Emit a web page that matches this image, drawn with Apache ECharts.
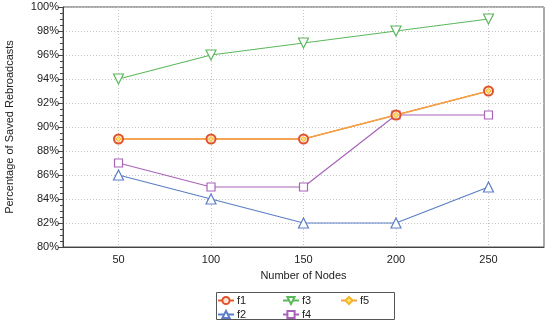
<!DOCTYPE html>
<html>
<head>
<meta charset="utf-8">
<script src="https://cdn.jsdelivr.net/npm/echarts@6/dist/echarts.min.js"></script>
<style>html,body{margin:0;padding:0;background:#fff}#c{width:550px;height:324px}</style>
</head>
<body>
<div id="c"></div>
<script>
var nodes = [50, 100, 150, 200, 250];
var f1 = [89, 89, 89, 91, 93];
var f2 = [86, 84, 82, 82, 85];
var f3 = [94, 96, 97, 98, 99];
var f4 = [87, 85, 85, 91, 91];
var f5 = [89, 89, 89, 91, 93];
var yTicks = [80, 82, 84, 86, 88, 90, 92, 94, 96, 98, 100];

function pairs(arr) { return nodes.map(function (n, i) { return [n, arr[i]]; }); }

var FONT = 'Liberation Sans';
var chart = echarts.init(document.getElementById('c'));
var legendBase = {
  orient: 'vertical', itemGap: 3, itemWidth: 16, itemHeight: 9,
  textStyle: { fontFamily: FONT, fontSize: 11, color: '#222', padding: [0, 0, 0, -2] },
  padding: 0, selectedMode: false
};
chart.setOption({
  animation: false,
  grid: { left: 63, right: 6, top: 7, bottom: 77, show: true, borderColor: '#555', borderWidth: 1,
          containLabel: false, outerBoundsMode: 'none' },
  xAxis: {
    type: 'value', min: 20, max: 280,
    name: 'Number of Nodes', nameLocation: 'middle', nameGap: 23,
    nameTextStyle: { fontFamily: FONT, fontSize: 11, color: '#222' },
    axisLine: { lineStyle: { color: '#444' } },
    axisTick: { show: false, customValues: nodes },
    axisLabel: { customValues: nodes, fontFamily: FONT, fontSize: 11, color: '#222', margin: 7 },
    splitLine: { show: true, lineStyle: { color: '#c4c4c4', type: [1, 2] } }
  },
  yAxis: {
    type: 'value', min: yTicks[0], max: yTicks[yTicks.length - 1], interval: 2,
    name: 'Percentage of Saved Rebroadcasts', nameLocation: 'middle', nameGap: 48,
    nameTextStyle: { fontFamily: FONT, fontSize: 11, color: '#222' },
    axisLine: { show: true, lineStyle: { color: '#444' } },
    axisTick: { show: true, length: 5, lineStyle: { color: '#444' } },
    minorTick: { show: true, splitNumber: 4, length: 3, lineStyle: { color: '#444' } },
    axisLabel: { formatter: '{value}%', fontFamily: FONT, fontSize: 11, color: '#222', margin: 4 },
    splitLine: { show: true, lineStyle: { color: '#c4c4c4', type: [1, 2] } }
  },
  legend: [
    Object.assign({}, legendBase, { left: 217, top: 295, data: ['f1', 'f2'] }),
    Object.assign({}, legendBase, { left: 282, top: 295, data: ['f3', 'f4'] }),
    Object.assign({}, legendBase, { left: 340, top: 295, data: ['f5'] })
  ],
  graphic: [{
    type: 'rect', shape: { x: 216.5, y: 292.5, width: 178, height: 27 },
    style: { fill: 'none', stroke: '#555', lineWidth: 1 }
  }],
  series: [
    { name: 'f2', type: 'line', data: pairs(f2), symbol: 'triangle', symbolSize: 10,
      lineStyle: { color: '#5b7ec6', width: 1.2 },
      itemStyle: { color: '#fff', borderColor: '#5b7ec6', borderWidth: 1.2 } },
    { name: 'f3', type: 'line', data: pairs(f3), symbol: 'triangle', symbolRotate: 180, symbolSize: 10,
      lineStyle: { color: '#5cb85c', width: 1.2 },
      itemStyle: { color: '#fff', borderColor: '#5cb85c', borderWidth: 1.2 } },
    { name: 'f4', type: 'line', data: pairs(f4), symbol: 'rect', symbolSize: 8,
      lineStyle: { color: '#a864b8', width: 1.2 },
      itemStyle: { color: '#fff', borderColor: '#a864b8', borderWidth: 1.2 } },
    { name: 'f1', type: 'line', data: pairs(f1), symbol: 'circle', symbolSize: 9,
      lineStyle: { color: '#e0602a', width: 1.2 },
      itemStyle: { color: '#fde8d8', borderColor: '#e2522a', borderWidth: 2 } },
    { name: 'f5', type: 'line', data: pairs(f5), symbol: 'diamond', symbolSize: 5,
      lineStyle: { color: '#f7a044', width: 1.4 },
      itemStyle: { color: '#fbe37a', borderColor: '#f5b62a', borderWidth: 1 } }
  ]
});
</script>
</body>
</html>
